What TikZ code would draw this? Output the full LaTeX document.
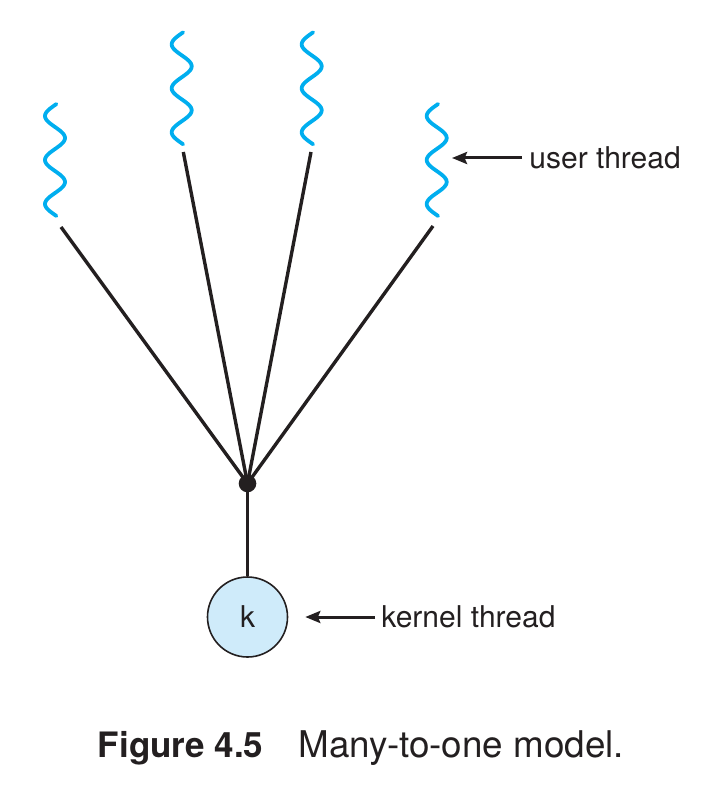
\documentclass[tikz,border=0pt]{standalone}
\usepackage{fontspec}
\setmainfont{TeX Gyre Heros}
\usepackage{tikz}
\usetikzlibrary{arrows.meta}
\definecolor{threadblue}{HTML}{00AEEF}
\definecolor{kfill}{HTML}{CFEBFA}
\definecolor{ink}{HTML}{231F20}

\begin{document}
\begin{tikzpicture}[x=0.5pt, y=-0.5pt,
	wave/.style={threadblue, line width=1.9pt, line cap=round},
	conn/.style={ink, line width=1.7pt},
	arr/.style={ink, line width=1.5pt, -{Stealth[length=7.5pt,width=6pt,inset=1.2pt]}},
	hubdot/.style={circle, fill=ink, inner sep=0pt, minimum size=8.8pt},
	kthread/.style={circle, draw=ink, fill=kfill, line width=0.8pt, minimum size=40pt, inner sep=0pt, text=ink, font=\fontsize{15}{18}\selectfont},
	lbl/.style={anchor=west, inner sep=0pt, text=ink, font=\fontsize{15}{18}\selectfont}]
\useasboundingbox (0,0) rectangle (708,786);
% user threads
\foreach \cx/\cy in {55/160, 181.7/88.3, 311.7/88.3, 436.7/160}
	\draw[wave] plot[domain=-56:56, samples=90, smooth] ({\cx-10*cos(\x*180/22)}, {\cy+\x});
\coordinate (t1) at (61,227);
\coordinate (t2) at (183.3,152);
\coordinate (t3) at (311,152);
\coordinate (t4) at (433,226);
\coordinate (utip) at (452,158);
\node (hub) [hubdot] at (247.5,483.5) {};
\node (kt) [kthread] at (247.5,617) {k};
\node (ulabel) [lbl] at (529,158) {user thread};
\node (klabel) [lbl] at (381,617) {kernel thread};
\path[conn]
(t1) edge (hub.center)
(t2) edge (hub.center)
(t3) edge (hub.center)
(t4) edge (hub.center)
(hub.center) edge (kt)
;
\path[arr]
(ulabel) edge[shorten <=3.5pt] (utip)
(klabel) edge[shorten <=3pt, shorten >=8.5pt] (kt)
;
\node (caption) [anchor=base west, inner sep=0pt, text=ink, font=\fontsize{17.5}{21}\selectfont] at (97.5,757) {\textbf{Figure 4.5}\hspace{17.5pt}{\fontsize{18.4}{22}\selectfont Many-to-one model.}};
\end{tikzpicture}
\end{document}
